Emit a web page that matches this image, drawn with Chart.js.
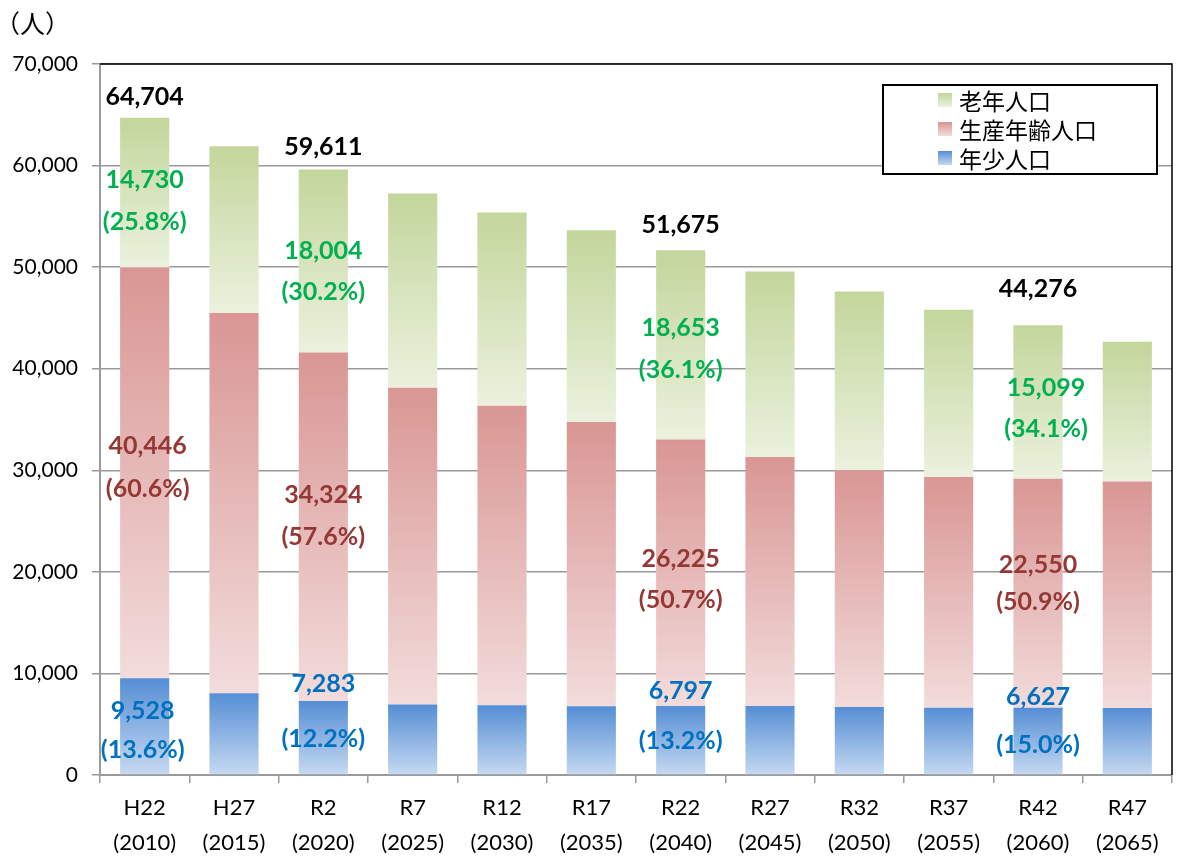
<!DOCTYPE html>
<html>
<head>
<meta charset="utf-8">
<script src="https://cdn.jsdelivr.net/npm/chart.js@4.4.1/dist/chart.umd.min.js"></script>
<style>
  body { margin: 0; background: #fff; }
  #wrap { width: 1177px; height: 858px; }
</style>
</head>
<body>
<div id="wrap"><canvas id="popChart" width="1177" height="858"></canvas></div>
<script>
const categories = [
  ['H22', '(2010)'], ['H27', '(2015)'], ['R2', '(2020)'], ['R7', '(2025)'],
  ['R12', '(2030)'], ['R17', '(2035)'], ['R22', '(2040)'], ['R27', '(2045)'],
  ['R32', '(2050)'], ['R37', '(2055)'], ['R42', '(2060)'], ['R47', '(2065)']
]
const youngPop   = [9528, 8050, 7283, 6950, 6860, 6760, 6797, 6800, 6700, 6630, 6627, 6600]
const workingPop = [40446, 37440, 34324, 31170, 29500, 27990, 26225, 24500, 23300, 22700, 22550, 22300]
const elderlyPop = [14730, 16410, 18004, 19130, 19020, 18870, 18653, 18280, 17600, 16480, 15099, 13750]

const youngPct   = [13.6, null, 12.2, null, null, null, 13.2, null, null, null, 15.0, null]
const workingPct = [60.6, null, 57.6, null, null, null, 50.7, null, null, null, 50.9, null]
const elderlyPct = [25.8, null, 30.2, null, null, null, 36.1, null, null, null, 34.1, null]
const labeledColumns = [0, 2, 6, 10]

const seriesNames = ['年少人口', '生産年齢人口', '老年人口']
const unitLabel = '（人）'
const yMax = 70000
const yStep = 10000

const txtFont = 'Lato, "Noto Sans", sans-serif'
const cjkFont = '"Noto Sans CJK JP", "Noto Sans", sans-serif'

// top colour / bottom colour of each segment's gradient
const fills = [
  ['#558ed5', '#c6d9f1'],
  ['#d99694', '#f2dcdb'],
  ['#c3d69b', '#ebf1de']
]
const valueColors = ['#0070c0', '#953735', '#00b050']

function segGradient(ds) {
  return (c) => {
    const chart = c.chart
    if (c.dataIndex === undefined || !chart.scales.y) return fills[ds][0]
    const y = chart.scales.y
    const all = chart.data.datasets
    let base = 0
    for (let i = 0; i < ds; i++) base += all[i].data[c.dataIndex]
    const top = y.getPixelForValue(base + all[ds].data[c.dataIndex])
    const bot = y.getPixelForValue(base)
    if (!isFinite(top) || !isFinite(bot) || top === bot) return fills[ds][0]
    const g = chart.ctx.createLinearGradient(0, top, 0, bot)
    g.addColorStop(0, fills[ds][0])
    g.addColorStop(1, fills[ds][1])
    return g
  }
}

// pixel shifts from the segment middle: [line1 dy, line2 dy, dx]
const labelShift = [
  { 0: [-15, 24, -2], 2: [-54, 1, 0], 6: [-49, 1, 0], 10: [-44, 4, 0] },
  { 0: [-27, 16, 3], 2: [-32, 10, 0], 6: [-14, 27, 0], 10: [-28, 9, 0] },
  { 0: [-13, 29, 0], 2: [-10, 31, 0], 6: [-17, 25, 0], 10: [-14, 27, 8] }
]
const totalShift = { 0: -21, 2: -23, 6: -25, 10: -36 }
const pctArrays = [youngPct, workingPct, elderlyPct]

const labelPlugin = {
  id: 'labelPlugin',
  afterDatasetsDraw(chart) {
    const ctx = chart.ctx
    ctx.save()
    ctx.textAlign = 'center'
    ctx.textBaseline = 'middle'
    ctx.font = 'bold 25px ' + txtFont
    for (const idx of labeledColumns) {
      for (let ds = 0; ds < 3; ds++) {
        const bar = chart.getDatasetMeta(ds).data[idx]
        const mid = (bar.y + bar.base) / 2
        const s = labelShift[ds][idx]
        const v = chart.data.datasets[ds].data[idx]
        ctx.fillStyle = valueColors[ds]
        ctx.fillText(v.toLocaleString('en-US'), bar.x + s[2], mid + s[0])
        ctx.fillText('(' + pctArrays[ds][idx].toFixed(1) + '%)', bar.x + s[2], mid + s[1])
      }
      const topBar = chart.getDatasetMeta(2).data[idx]
      const total = youngPop[idx] + workingPop[idx] + elderlyPop[idx]
      ctx.fillStyle = '#000'
      ctx.fillText(total.toLocaleString('en-US'), topBar.x, topBar.y + totalShift[idx])
    }
    ctx.restore()
  }
}

const framePlugin = {
  id: 'framePlugin',
  afterDraw(chart) {
    const ctx = chart.ctx
    const a = chart.chartArea
    ctx.save()
    // top and right edge of plot area
    ctx.strokeStyle = '#000'
    ctx.lineWidth = 1.5
    ctx.beginPath()
    ctx.moveTo(a.left, a.top)
    ctx.lineTo(a.right, a.top)
    ctx.lineTo(a.right, a.bottom)
    ctx.stroke()

    // unit label
    ctx.fillStyle = '#000'
    ctx.font = '25px ' + cjkFont
    ctx.textBaseline = 'middle'
    ctx.textAlign = 'left'
    ctx.fillText(unitLabel, -5, 23)

    // legend box
    ctx.fillStyle = '#fff'
    ctx.fillRect(883, 85, 274, 89)
    ctx.strokeStyle = '#000'
    ctx.lineWidth = 2
    ctx.strokeRect(883, 85, 274, 89)
    ctx.font = '23px ' + cjkFont
    const rows = [2, 1, 0]
    rows.forEach((ds, r) => {
      const cy = 100 + r * 29
      const g = ctx.createLinearGradient(0, cy - 7, 0, cy + 7)
      g.addColorStop(0, fills[ds][0])
      g.addColorStop(1, fills[ds][1])
      ctx.fillStyle = g
      ctx.fillRect(938, cy - 7, 14, 14)
      ctx.fillStyle = '#000'
      ctx.fillText(chart.data.datasets[ds].label, 959, cy + 1)
    })
    ctx.restore()
  }
}

new Chart(document.getElementById('popChart'), {
  type: 'bar',
  data: {
    labels: categories,
    datasets: [
      { label: seriesNames[0], data: youngPop, backgroundColor: segGradient(0) },
      { label: seriesNames[1], data: workingPop, backgroundColor: segGradient(1) },
      { label: seriesNames[2], data: elderlyPop, backgroundColor: segGradient(2) }
    ]
  },
  options: {
    responsive: false,
    animation: false,
    layout: { padding: { left: 0, right: 5, top: 64, bottom: 0 } },
    datasets: { bar: { categoryPercentage: 1, barPercentage: 0.55 } },
    plugins: {
      legend: { display: false },
      tooltip: { enabled: false }
    },
    scales: {
      x: {
        stacked: true,
        grid: { drawOnChartArea: false, offset: true, tickLength: 8, color: '#9a9a9a', lineWidth: 1.5 },
        border: { color: '#9a9a9a', width: 2 },
        ticks: { color: '#000', font: { family: txtFont, size: 22, lineHeight: 1.6 }, padding: 7, maxRotation: 0 },
        afterFit(s) { s.height = 83 }
      },
      y: {
        stacked: true,
        min: 0,
        max: yMax,
        grid: { color: '#9a9a9a', lineWidth: 1.5, tickLength: 8 },
        border: { color: '#9a9a9a', width: 2 },
        ticks: {
          stepSize: yStep,
          color: '#000',
          padding: 14,
          font: { family: txtFont, size: 21 },
          callback: (v) => v.toLocaleString('en-US')
        },
        afterFit(s) { s.width = 100 }
      }
    }
  },
  plugins: [labelPlugin, framePlugin]
})
</script>
</body>
</html>
